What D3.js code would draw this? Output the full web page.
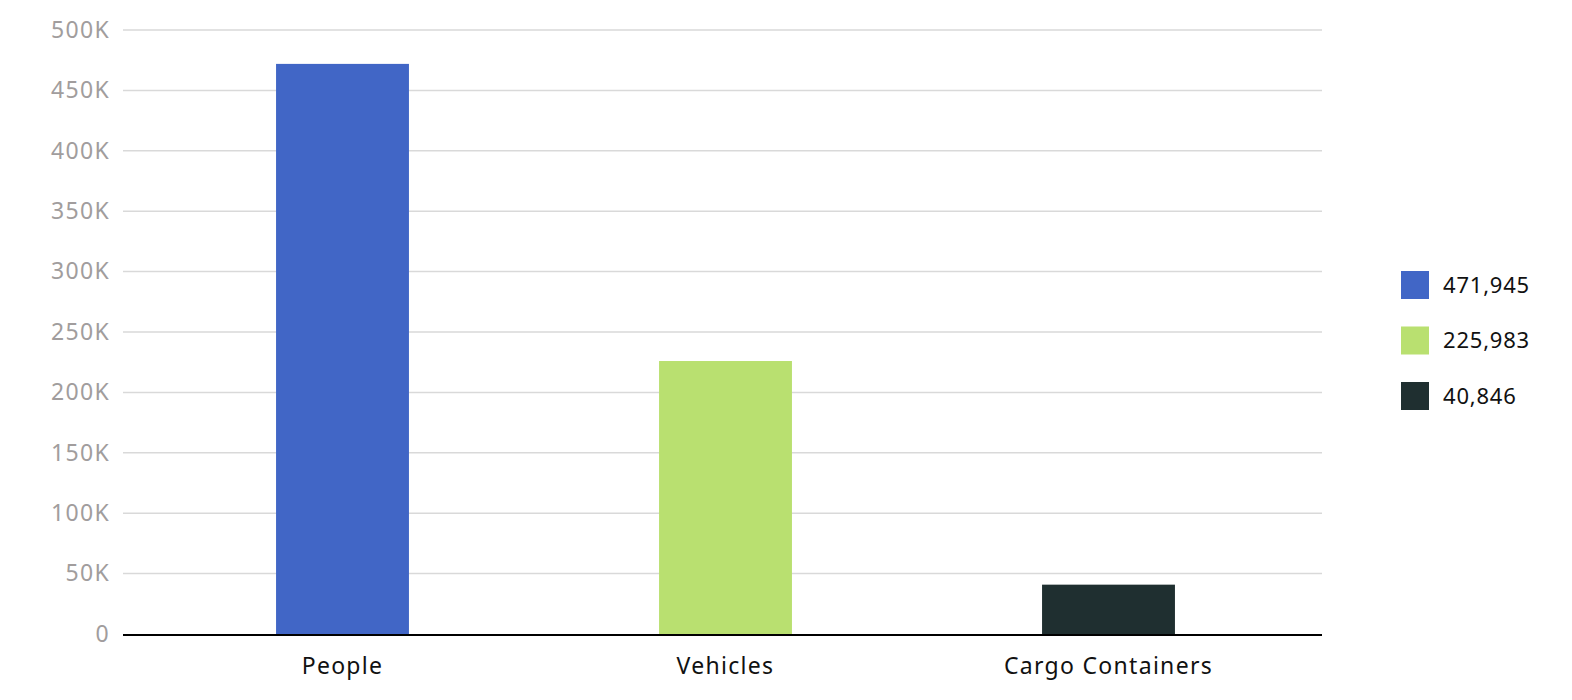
<!DOCTYPE html>
<html><head><meta charset="utf-8">
<script src="https://cdn.jsdelivr.net/npm/d3@7"></script>
<style>body{margin:0;background:#fff;font-family:"Noto Sans",sans-serif;}</style>
</head><body><svg id="c" width="1572" height="700"></svg>
<script>
const categories = ["People", "Vehicles", "Cargo Containers"];
const values = [471945, 225983, 40846];
const colors = ["#4166c6", "#b9e070", "#1f2f30"];
const yTicks = [0, 50000, 100000, 150000, 200000, 250000, 300000, 350000, 400000, 450000, 500000];
const tickLabels = ["0", "50K", "100K", "150K", "200K", "250K", "300K", "350K", "400K", "450K", "500K"];

(function () {
const svg = d3.select("#c");
const mLeft = 123, mRight = 1322, mTop = 30, mBottom = 634;
const x = d3.scaleBand().domain(categories).range([151, 1300]).paddingInner(0.653).paddingOuter(0.3265);
const y = d3.scaleLinear().domain([0, 500000]).range([mBottom, mTop]);

// gridlines
svg.append("g").selectAll("line").data(yTicks.slice(1)).join("line")
  .attr("x1", mLeft).attr("x2", mRight)
  .attr("y1", d => y(d)).attr("y2", d => y(d))
  .attr("stroke", "#d9d9d9").attr("stroke-width", 1.5);

// y labels
const yAxis = d3.axisLeft(y).tickValues(yTicks).tickSize(0).tickPadding(13)
  .tickFormat((d, i) => tickLabels[i]);
const gy = svg.append("g").attr("transform", `translate(${mLeft},0)`).call(yAxis);
gy.select(".domain").remove();
gy.selectAll("text").attr("fill", "#a19d9d").style("font-size", "23px")
  .style("letter-spacing", "1.3px").style("font-family", "'Noto Sans',sans-serif");

// bars
svg.append("g").selectAll("rect").data(values).join("rect")
  .attr("x", (d, i) => x(categories[i]))
  .attr("width", x.bandwidth())
  .attr("y", d => y(d))
  .attr("height", d => mBottom - y(d))
  .attr("fill", (d, i) => colors[i]);

// baseline
svg.append("line").attr("x1", mLeft).attr("x2", mRight).attr("y1", mBottom + 1).attr("y2", mBottom + 1)
  .attr("stroke", "#000").attr("stroke-width", 2);

// x labels
const xAxis = d3.axisBottom(x).tickSize(0).tickPadding(24);
const gx = svg.append("g").attr("transform", `translate(0,${mBottom})`).call(xAxis);
gx.select(".domain").remove();
gx.selectAll("text").attr("fill", "#111").style("font-size", "23px")
  .style("letter-spacing", "1.3px").style("font-family", "'Noto Sans',sans-serif");

// legend
const fmt = d3.format(",");
const lg = svg.append("g").selectAll("g").data(values).join("g")
  .attr("transform", (d, i) => `translate(1401,${271 + i * 55.5})`);
lg.append("rect").attr("width", 28).attr("height", 28).attr("fill", (d, i) => colors[i]);
lg.append("text").attr("x", 42).attr("y", 14).attr("dy", "0.35em")
  .style("font-size", "22px").style("letter-spacing", "0.8px").attr("fill", "#111").text(d => fmt(d));
})();
</script></body></html>
